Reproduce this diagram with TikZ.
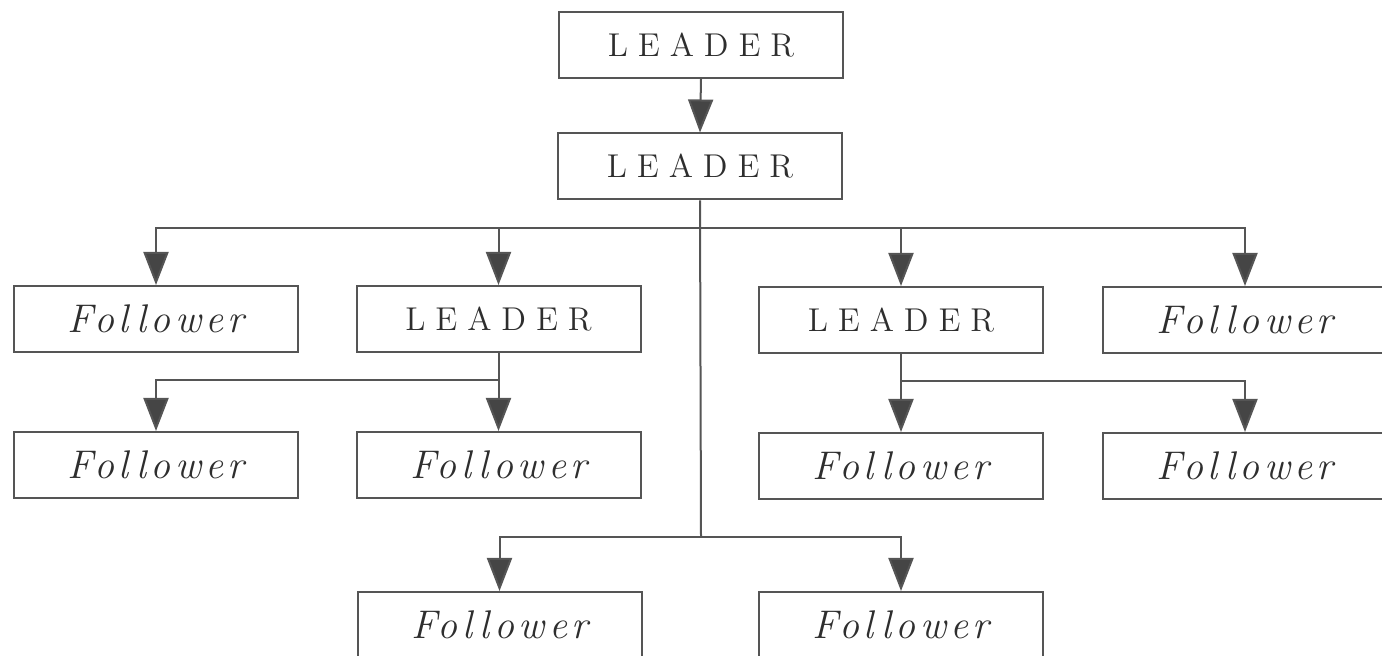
\documentclass[tikz,border=0pt]{standalone}
\usepackage{fontspec}
\setmainfont{lmroman12-regular.otf}[ItalicFont=lmroman12-italic.otf]
\newfontfamily\leadfont{lmroman12-regular.otf}[LetterSpace=30]
\newfontfamily\follfont{lmroman12-italic.otf}[LetterSpace=11]
\usetikzlibrary{arrows.meta}
\definecolor{ink}{HTML}{2E2E2E}
\definecolor{rule}{HTML}{555555}
\definecolor{tip}{HTML}{454545}
\begin{document}
\begin{tikzpicture}[x=0.5pt,y=-0.5pt,
  unit/.style={draw=rule,line width=1pt,minimum width=142pt,minimum height=33pt,
    inner sep=0pt,text=ink},
  leader/.style={unit,font=\leadfont\fontsize{16.5}{19}\selectfont},
  follower/.style={unit,font=\follfont\fontsize{20}{23}\selectfont},
  link/.style={draw=rule,line width=1pt},
  arr/.style={link,-{Triangle[length=16.5pt,width=12.5pt,fill=tip]}}]
\useasboundingbox (0,0) rectangle (1382,656);

% chain of command
\node[leader] (L0) at (701,45) {LEADER};
\node[leader] (L1) at (700,166.5) {LEADER};

% first tier
\node[follower] (F1) at (156,319) {Follower};
\node[leader]   (L2) at (498.5,319) {LEADER};
\node[leader]   (L3) at (901,320) {LEADER};
\node[follower] (F2) at (1245,320) {Follower};

% second tier
\node[follower] (F3) at (156,465) {Follower};
\node[follower] (F4) at (498.5,465) {Follower};
\node[follower] (F5) at (901,466) {Follower};
\node[follower] (F6) at (1245,466) {Follower};

% third tier
\node[follower] (F7) at (499.5,625) {Follower};
\node[follower] (F8) at (901,625) {Follower};

% junction points of the distribution lines
\coordinate (busA) at (701,228);
\coordinate (busC) at (701,537);
\coordinate (busL) at (498.5,380);
\coordinate (busR) at (901,381);

\draw[arr] (L0.south) -- (L1.north);
\draw[link] (L1.south) -- (busC);
\draw[arr] (busA) -| (F1.north);
\draw[arr] (busA) -| (L2.north);
\draw[arr] (busA) -| (L3.north);
\draw[arr] (busA) -| (F2.north);

\draw[link] (L2.south) -- (busL);
\draw[arr] (busL) -| (F3.north);
\draw[arr] (busL) -- (F4.north);

\draw[link] (L3.south) -- (busR);
\draw[arr] (busR) -- (F5.north);
\draw[arr] (busR) -| (F6.north);

\draw[arr] (busC) -| (F7.north);
\draw[arr] (busC) -| (F8.north);
\end{tikzpicture}
\end{document}
